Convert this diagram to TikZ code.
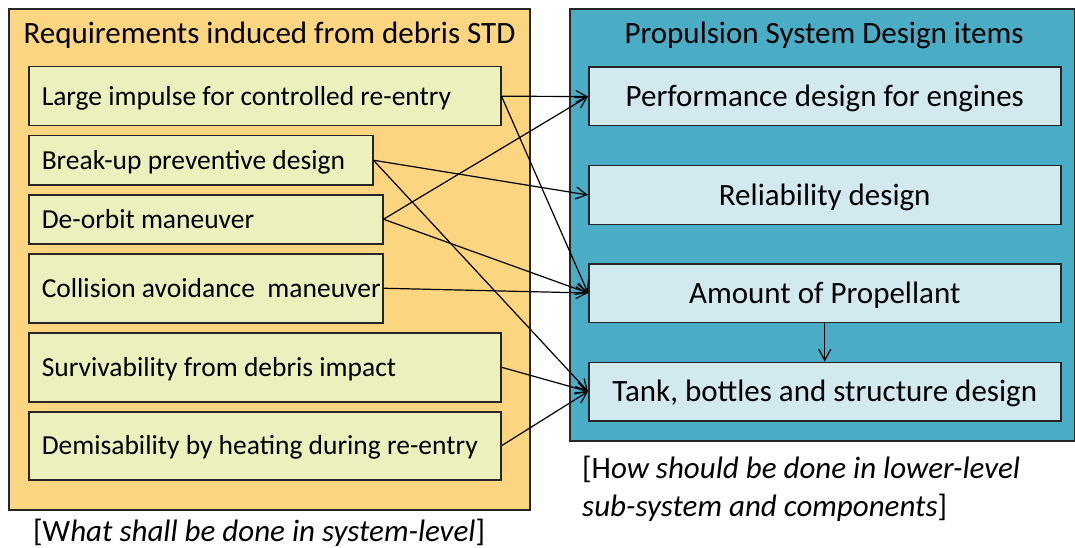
\documentclass[tikz,border=0pt]{standalone}
\usepackage{fontspec}
\setmainfont{Carlito}
\usetikzlibrary{arrows.meta}

\definecolor{reqouter}{HTML}{FCD580}
\definecolor{reqitem}{HTML}{EBF0BD}
\definecolor{psouter}{HTML}{4BACC6}
\definecolor{psitem}{HTML}{D2E9F0}
\definecolor{edgeline}{HTML}{262626}

% left-aligned item text in a fixed-width line (never breaks)
\newcommand\itemline[2]{\makebox[#1pt][l]{#2}}

\begin{document}
\begin{tikzpicture}[x=1pt,y=-1pt,
  panel/.style={draw=edgeline, line width=1.8pt, inner sep=0pt, anchor=north west},
  paneltitle/.style={anchor=base, inner sep=0pt, font=\fontsize{31}{37}\selectfont},
  reqbox/.style={draw=edgeline, line width=1.5pt, fill=reqitem, anchor=north west,
    inner xsep=13pt, inner ysep=0pt, text height=17.8pt, text depth=0pt,
    font=\fontsize{27.5}{33}\selectfont},
  psbox/.style={draw=edgeline, line width=1.5pt, fill=psitem, anchor=north west,
    minimum width=472pt, minimum height=58.5pt, inner sep=0pt,
    text height=20pt, text depth=0pt, font=\fontsize{31}{37}\selectfont},
  captext/.style={anchor=base west, inner sep=0pt, font=\fontsize{31}{37}\selectfont},
  conn/.style={draw=black, line width=1.2pt, -{Straight Barb[length=11pt,width=12pt]}}
]
\useasboundingbox (0,0) rectangle (1075,548);

% outer panels
\node[panel, fill=reqouter, minimum width=521pt, minimum height=501pt] (reqpanel) at (8,8) {};
\node[panel, fill=psouter, minimum width=505pt, minimum height=432pt] (pspanel) at (569,8) {};

\node[paneltitle] (reqtitle) at (269.5,44) {Requirements induced from debris STD};
\node[paneltitle] (pstitle) at (824,44) {Propulsion System Design items};

% requirement items
\node[reqbox, minimum height=59pt] (r1) at (28,66)  {\itemline{446}{Large impulse for controlled re-entry}};
\node[reqbox, minimum height=49pt] (r2) at (28,135) {\itemline{318}{Break-up preventive design}};
\node[reqbox, minimum height=49pt] (r3) at (28,194) {\itemline{328}{De-orbit maneuver}};
\node[reqbox, minimum height=69pt] (r4) at (28,253) {\itemline{328}{Collision avoidance\ \ maneuver}};
\node[reqbox, minimum height=69pt] (r5) at (28,332) {\itemline{446}{Survivability from debris impact}};
\node[reqbox, minimum height=68pt] (r6) at (28,411) {\itemline{446}{Demisability by heating during re-entry}};

% propulsion design items
\node[psbox] (p1) at (588,66.5)  {Performance design for engines};
\node[psbox] (p2) at (588,165)   {Reliability design};
\node[psbox] (p3) at (588,263)   {Amount of Propellant};
\node[psbox] (p4) at (588,361.5) {Tank, bottles and structure design};

% captions
\node[captext] (reqcap) at (33,541) {[W\textit{hat shall be done in system-level}]};
\node[captext] (pscap1) at (582,478) {[H\textit{ow should be done in lower-level}};
\node[captext] (pscap2) at (582,516) {\textit{sub-system and components}]};

% relations
\draw[conn] (r1.east) -- (p1.west);
\draw[conn] (r1.east) -- (p3.west);
\draw[conn] (r2.east) -- (p2.west);
\draw[conn] (r2.east) -- (p4.west);
\draw[conn] (r3.east) -- (p1.west);
\draw[conn] (r3.east) -- (p3.west);
\draw[conn] (r4.east) -- (p3.west);
\draw[conn] (r5.east) -- (p4.west);
\draw[conn] (r6.east) -- (p4.west);
\draw[conn] (p3.south) -- (p4.north);
\end{tikzpicture}
\end{document}
